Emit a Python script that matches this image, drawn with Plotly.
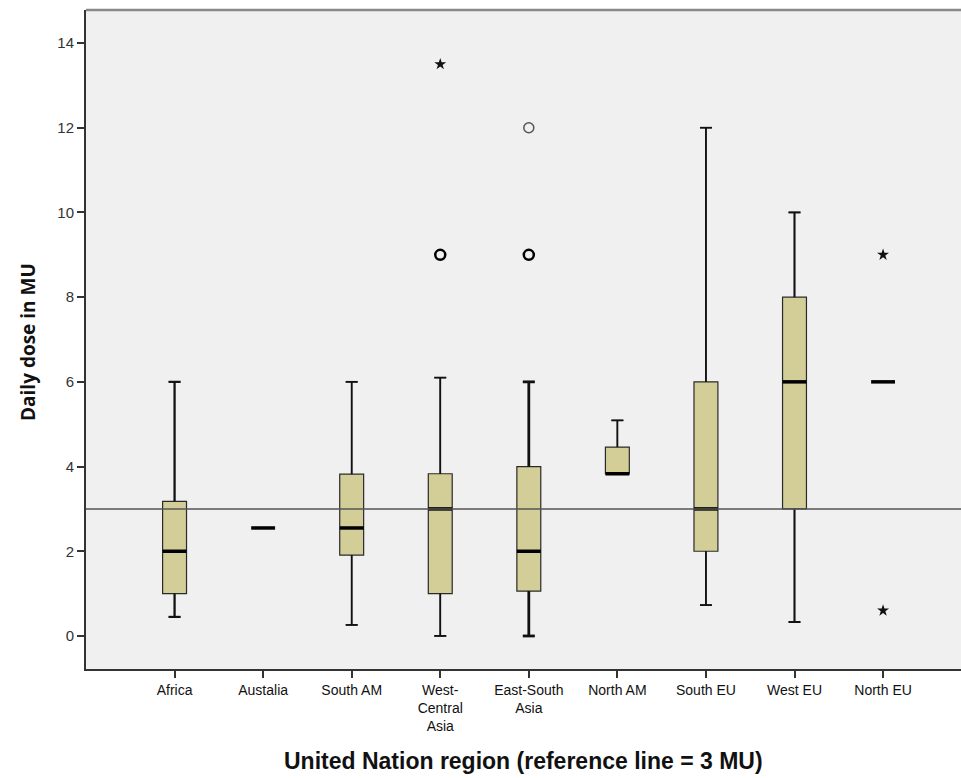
import plotly.graph_objects as go

regions = ["Africa", "Austalia", "South AM", "West-<br>Central<br>Asia", "East-South<br>Asia",
           "North AM", "South EU", "West EU", "North EU"]
lower = [0.45, 2.55, 0.26, 0.0, 0.0, 3.83, 0.73, 0.33, 6.0]
q1 = [1.0, 2.55, 1.91, 1.0, 1.06, 3.83, 2.0, 3.0, 6.0]
median = [2.0, 2.55, 2.55, 3.0, 2.0, 3.83, 3.0, 6.0, 6.0]
q3 = [3.18, 2.55, 3.82, 3.83, 4.0, 4.46, 6.0, 8.0, 6.0]
upper = [6.0, 2.55, 6.0, 6.1, 6.0, 5.09, 12.0, 10.0, 6.0]
whisker_w = [2.2, 2, 1.8, 1.8, 2.8, 1.8, 1.8, 2.0, 2]

# outliers: (region index, value)
circle_bold = [(3, 9.0), (4, 9.0)]
circle_thin = [(4, 12.0)]
extremes = [(3, 13.5), (8, 9.0), (8, 0.6)]

ref_value = 3
yticks = [0, 2, 4, 6, 8, 10, 12, 14]

BOX_W = 0.27
CAP_W = BOX_W / 2
fig = go.Figure()
for i, name in enumerate(regions):
    if q1[i] == q3[i] and lower[i] == upper[i]:
        continue
    # whiskers and caps
    xs, ys = [], []
    if upper[i] > q3[i]:
        xs += [i, i, None, i - CAP_W / 2, i + CAP_W / 2, None]
        ys += [q3[i], upper[i], None, upper[i], upper[i], None]
    if lower[i] < q1[i]:
        xs += [i, i, None, i - CAP_W / 2, i + CAP_W / 2, None]
        ys += [q1[i], lower[i], None, lower[i], lower[i], None]
    fig.add_trace(go.Box(
        x=[i], q1=[q1[i]], median=[median[i]], q3=[q3[i]],
        lowerfence=[lower[i]], upperfence=[upper[i]],
        width=BOX_W, whiskerwidth=0.5,
        fillcolor="rgb(211,206,151)",
        line=dict(color="#2a2a2a", width=1.2),
        boxpoints=False, showlegend=False, hoverinfo="skip"))
    fig.add_trace(go.Scatter(
        x=xs, y=ys, mode="lines", line=dict(color="#111", width=whisker_w[i]),
        showlegend=False, hoverinfo="skip"))

for i, m in enumerate(median):
    fig.add_trace(go.Scatter(
        x=[i - BOX_W / 2, i + BOX_W / 2], y=[m, m], mode="lines",
        line=dict(color="black", width=3.5), showlegend=False, hoverinfo="skip"))

fig.add_trace(go.Scatter(
    x=[p[0] for p in circle_bold], y=[p[1] for p in circle_bold], mode="markers",
    marker=dict(symbol="circle-open", size=10, color="black", line=dict(width=2.5, color="black")),
    showlegend=False))
fig.add_trace(go.Scatter(
    x=[p[0] for p in circle_thin], y=[p[1] for p in circle_thin], mode="markers",
    marker=dict(symbol="circle-open", size=10, color="#555", line=dict(width=1.5, color="#555")),
    showlegend=False))
fig.add_trace(go.Scatter(
    x=[p[0] for p in extremes], y=[p[1] for p in extremes], mode="markers",
    marker=dict(symbol="star", size=9, color="#111", line=dict(width=0)),
    showlegend=False))

fig.add_hline(y=ref_value, line=dict(color="#555", width=1.5), layer="above")
fig.add_shape(type="line", xref="paper", yref="paper", x0=0, x1=1, y0=1, y1=1,
              line=dict(color="#888", width=2.5))

fig.add_annotation(text="<b>United Nation region (reference line = 3 MU)</b>",
                   xref="paper", yref="paper", x=0.5, y=-(761 - 669) / 659,
                   xanchor="center", yanchor="middle", showarrow=False,
                   font=dict(family="Liberation Sans, Arial, sans-serif", size=23, color="#111"))
fig.add_annotation(text="<b>Daily dose in MU</b>",
                   xref="paper", yref="paper", x=(28 - 86) / 875, y=(669 - 342) / 659,
                   xanchor="center", yanchor="middle", textangle=-90, showarrow=False,
                   font=dict(family="Open Sans, sans-serif", size=19, color="#111"))

fig.update_layout(
    width=961, height=778,
    margin=dict(l=86, r=0, t=10, b=109, autoexpand=False),
    paper_bgcolor="white", plot_bgcolor="#f0f0f0",
    font=dict(family="Liberation Sans, Arial, sans-serif", color="#222"),
    xaxis=dict(
        range=[-1.0, 8.88], tickmode="array", tickvals=list(range(len(regions))),
        ticktext=regions, ticks="outside", ticklen=7, tickwidth=1.5, tickcolor="#333",
        showgrid=False, zeroline=False, showline=True, linecolor="#333", linewidth=2,
        tickfont=dict(size=14, color="#111"), automargin=False,
    ),
    yaxis=dict(
        range=[-0.78, 14.78], tickmode="array", tickvals=yticks,
        ticks="outside", ticklen=7, tickwidth=1.5, tickcolor="#333",
        showgrid=False, zeroline=False, showline=True, linecolor="#333", linewidth=2,
        tickfont=dict(size=15, color="#333"), automargin=False,
    ),
)

fig.write_html("out.html", config={"displayModeBar": False},
               post_script="document.body.style.margin='0';document.body.style.overflow='hidden';")
